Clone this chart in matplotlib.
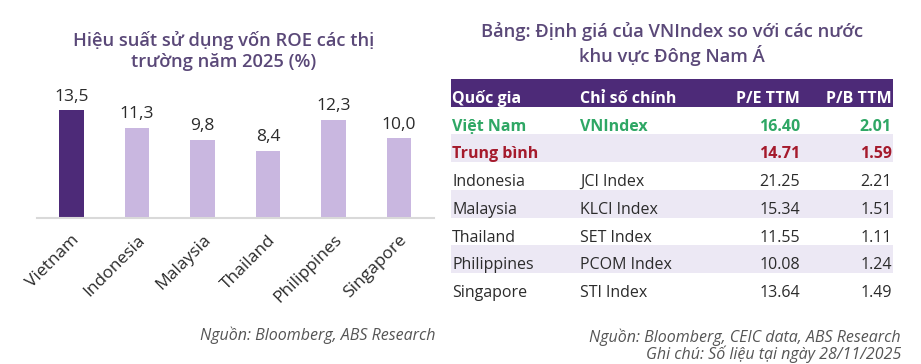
import matplotlib
matplotlib.use("Agg")
import matplotlib.pyplot as plt
import numpy as np

plt.rcParams['font.family'] = ['Open Sans', 'DejaVu Sans']

# left chart data
markets = ['Vietnam', 'Indonesia', 'Malaysia', 'Thailand', 'Philippines', 'Singapore']
roe = [13.5, 11.3, 9.8, 8.4, 12.3, 10.0]
roe_labels = ['13,5', '11,3', '9,8', '8,4', '12,3', '10,0']

# right table data
tbl_header = ['Quốc gia', 'Chỉ số chính', 'P/E TTM', 'P/B TTM']
countries = ['Việt Nam', 'Trung bình', 'Indonesia', 'Malaysia', 'Thailand', 'Philippines', 'Singapore']
indices = ['VNIndex', '', 'JCI Index', 'KLCI Index', 'SET Index', 'PCOM Index', 'STI Index']
pe = ['16.40', '14.71', '21.25', '15.34', '11.55', '10.08', '13.64']
pb = ['2.01', '1.59', '2.21', '1.51', '1.11', '1.24', '1.49']

W, H = 921, 364
DARK = '#4d2a78'
LIGHT = '#c9b7e0'
TITLE_C = '#5a4878'
TEXT_C = '#2b2b2b'
GREEN = '#2fa765'
RED = '#a51a2c'
BAND = '#ece8f4'

fig = plt.figure(figsize=(W / 100, H / 100), dpi=100)
fig.patch.set_facecolor('white')


def fx(px):
    return px / W


def fy(py):
    return 1 - py / H


# ---- bar chart ----
x0, x1 = 37, 433.5
y_base, y_top = 218, 218 - 15 * 7.97
ax = fig.add_axes([fx(x0), fy(y_base), fx(x1 - x0), (y_base - y_top) / H])
pos = np.arange(len(markets))
colors = [DARK] + [LIGHT] * (len(markets) - 1)
ax.bar(pos, roe, width=0.37, color=colors)
for p, v, lab in zip(pos, roe, roe_labels):
    ax.text(p, v + 1.2, lab, ha='center', va='baseline', fontsize=12.5, color=TEXT_C)
ax.set_xlim(-0.527, 5.527)
ax.set_ylim(0, 15)
ax.set_yticks([])
for s in ['top', 'right', 'left']:
    ax.spines[s].set_visible(False)
ax.spines['bottom'].set_color('#d9d9d9')
ax.spines['bottom'].set_linewidth(1.5)
ax.set_xticks(pos)
ax.set_xticklabels(markets, rotation=45, ha='right', va='top', rotation_mode='anchor',
                   fontsize=12.5, color=TEXT_C)
ax.tick_params(axis='x', length=0, pad=10)

fig.text(fx(224), fy(51), 'Hiệu suất sử dụng vốn ROE các thị\ntrường năm 2025 (%)',
         ha='center', va='center', fontsize=13.2, fontweight='semibold', color=TITLE_C,
         linespacing=1.25)
fig.text(fx(435), fy(335), 'Nguồn: Bloomberg, ABS Research', ha='right', va='center',
         fontsize=11.5, style='italic', color='#555555')

# ---- table ----
tx0, tx1 = 451, 893
ty0, ty1 = 79, 301
tax = fig.add_axes([fx(tx0), fy(ty1), fx(tx1 - tx0), (ty1 - ty0) / H])
n_rows = len(countries) + 1
tax.set_xlim(0, 1)
tax.set_ylim(n_rows, 0)
tax.axis('off')

col_x = [0.003, 0.292, 0.79, 0.997]
col_ha = ['left', 'left', 'right', 'right']

tax.axhspan(0, 1, color=DARK, lw=0)
for j, h in enumerate(tbl_header):
    tax.text(col_x[j], 1 - 0.14, h, ha=col_ha[j], va='baseline', fontsize=11.5,
             fontweight='bold', color='white')

for i in range(len(countries)):
    r = i + 1
    if i % 2 == 1:
        tax.axhspan(r, r + 1, color=BAND, lw=0)
    if i == 0:
        c, w = GREEN, 'bold'
    elif i == 1:
        c, w = RED, 'bold'
    else:
        c, w = TEXT_C, 'normal'
    row = [countries[i], indices[i], pe[i], pb[i]]
    for j, val in enumerate(row):
        tax.text(col_x[j], r + 1 - 0.14, val, ha=col_ha[j], va='baseline', fontsize=11.5,
                 fontweight=w, color=c)

fig.text(fx(672), fy(44), 'Bảng: Định giá của VNIndex so với các nước\nkhu vực Đông Nam Á',
         ha='center', va='center', fontsize=13.2, fontweight='semibold', color=TITLE_C,
         linespacing=1.25)
fig.text(fx(901), fy(337), 'Nguồn: Bloomberg, CEIC data, ABS Research', ha='right', va='center',
         fontsize=11.5, style='italic', color='#555555')
fig.text(fx(901), fy(354), 'Ghi chú: Số liệu tại ngày 28/11/2025', ha='right', va='center',
         fontsize=11.5, style='italic', color='#555555')

fig.savefig('out.png', dpi=100, facecolor='white')
